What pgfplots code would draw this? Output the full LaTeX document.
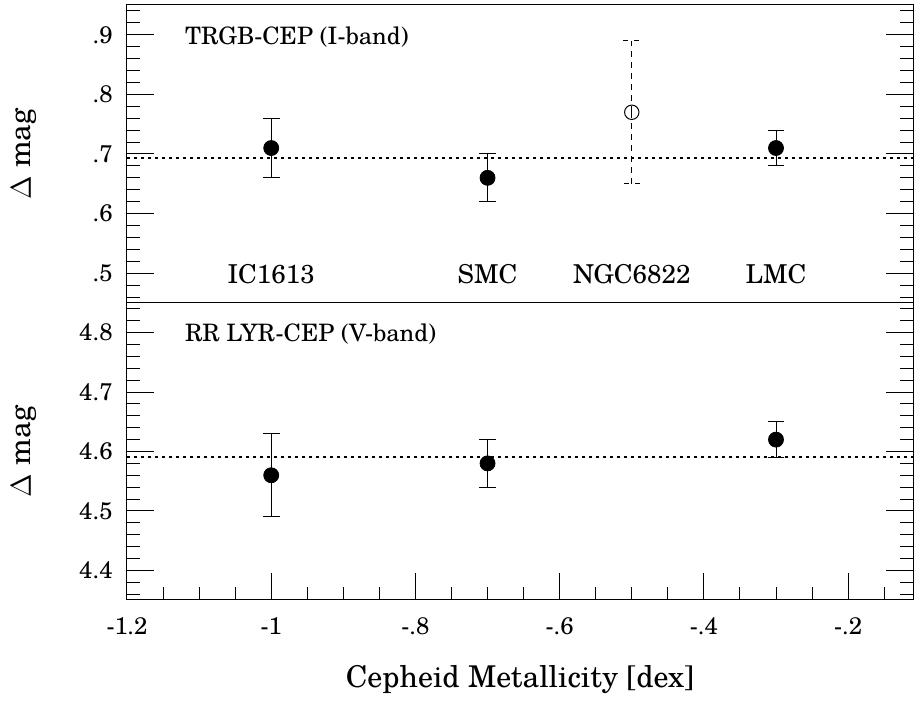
\documentclass[border=0pt]{standalone}
\usepackage{fontspec}
\setmainfont{TeX Gyre Schola}
\usepackage{pgfplots}
\pgfplotsset{compat=1.18}
\tikzset{lbl/.style={font=\fontsize{13}{15}\selectfont, inner sep=0pt}}
\begin{document}
\begin{tikzpicture}
\pgfplotsset{
  every axis/.append style={
    scale only axis, width=393pt,
    xmin=-1.2, xmax=-0.11,
    axis line style={line width=0.5pt},
    tick style={line width=0.5pt, black},
    major tick length=13.5pt, minor tick length=6.5pt,
    tick align=inside,
    ytick pos=both,
    yticklabel style={anchor=east, inner sep=0pt, xshift=-7pt, font=\fontsize{12}{14}\selectfont},
    xticklabel style={anchor=base, inner sep=0pt, yshift=-17.5pt, font=\fontsize{12}{14}\selectfont},
    ylabel style={at={(axis description cs:-0.131,0.5)}, anchor=center, font=\fontsize{15}{18}\selectfont},
    clip=false,
  },
  pt/.style={only marks, mark=*, mark size=3.75pt, black,
    error bars/.cd, y dir=both, y explicit, error mark=|,
    error bar style={line width=0.5pt, black},
    error mark options={line width=0.5pt, mark size=4.2pt, black}},
  refl/.style={black, line width=1pt, dash pattern=on 1.5pt off 2pt, no marks},
}
% lower panel
\begin{axis}[name=low, at={(0,0)}, anchor=south west,
  height=148.5pt, ymin=4.35, ymax=4.85,
  xtick={-1.2,-1,-0.8,-0.6,-0.4,-0.2},
  xticklabels={-1.2,-1,-.8,-.6,-.4,-.2},
  minor xtick={-1.15,-1.1,-1.05,-0.95,-0.9,-0.85,-0.75,-0.7,-0.65,-0.55,-0.5,-0.45,-0.35,-0.3,-0.25,-0.15},
  xtick pos=bottom,
  ytick={4.4,4.5,4.6,4.7,4.8},
  yticklabels={4.4,4.5,4.6,4.7,4.8},
  minor ytick={4.36,4.38,4.42,4.44,4.46,4.48,4.52,4.54,4.56,4.58,4.62,4.64,4.66,4.68,4.72,4.74,4.76,4.78,4.82,4.84},
  ylabel={$\Delta$ mag},
  xlabel={Cepheid Metallicity [dex]},
  xlabel style={at={(axis description cs:0.5,0)}, anchor=base, yshift=-44pt, font=\fontsize{15}{18}\selectfont},
]
\addplot[refl] coordinates {(-1.2,4.591) (-0.11,4.591)};
\addplot[pt] coordinates {(-1,4.56) +- (0,0.07) (-0.7,4.58) +- (0,0.04) (-0.3,4.62) +- (0,0.03)};
\node[lbl, font=\fontsize{12}{14}\selectfont, anchor=base west] at (axis cs:-1.12,4.7845) {RR LYR-CEP (V-band)};
\end{axis}
% upper panel
\begin{axis}[name=up, at={(low.north west)}, anchor=south west,
  height=149pt, ymin=0.45, ymax=0.95,
  xtick=\empty, minor xtick={},
  ytick={0.5,0.6,0.7,0.8,0.9},
  yticklabels={.5,.6,.7,.8,.9},
  minor ytick={0.46,0.48,0.52,0.54,0.56,0.58,0.62,0.64,0.66,0.68,0.72,0.74,0.76,0.78,0.82,0.84,0.86,0.88,0.92,0.94},
  ylabel={$\Delta$ mag},
]
\addplot[refl] coordinates {(-1.2,0.693) (-0.11,0.693)};
\addplot[pt] coordinates {(-1,0.71) +- (0,0.05) (-0.7,0.66) +- (0,0.04) (-0.3,0.71) +- (0,0.03)};
\addplot[only marks, mark=o, mark size=3.6pt, black, mark options={line width=0.5pt, solid},
  error bars/.cd, y dir=both, y explicit, error mark=|,
  error bar style={line width=0.5pt, black, dash pattern=on 3pt off 2.5pt},
  error mark options={line width=0.5pt, mark size=4.2pt, black, dash pattern=on 2.5pt off 3pt}]
  coordinates {(-0.5,0.77) +- (0,0.12)};
\node[lbl, font=\fontsize{12}{14}\selectfont, anchor=base west] at (axis cs:-1.12,0.8845) {TRGB-CEP (I-band)};
\node[lbl, anchor=base] at (axis cs:-1,0.483) {IC1613};
\node[lbl, anchor=base] at (axis cs:-0.7,0.483) {SMC};
\node[lbl, anchor=base] at (axis cs:-0.5,0.483) {NGC6822};
\node[lbl, anchor=base] at (axis cs:-0.3,0.483) {LMC};
\end{axis}
\useasboundingbox (-63.5pt,-48pt) rectangle (393.5pt,300pt);
\end{tikzpicture}
\end{document}
